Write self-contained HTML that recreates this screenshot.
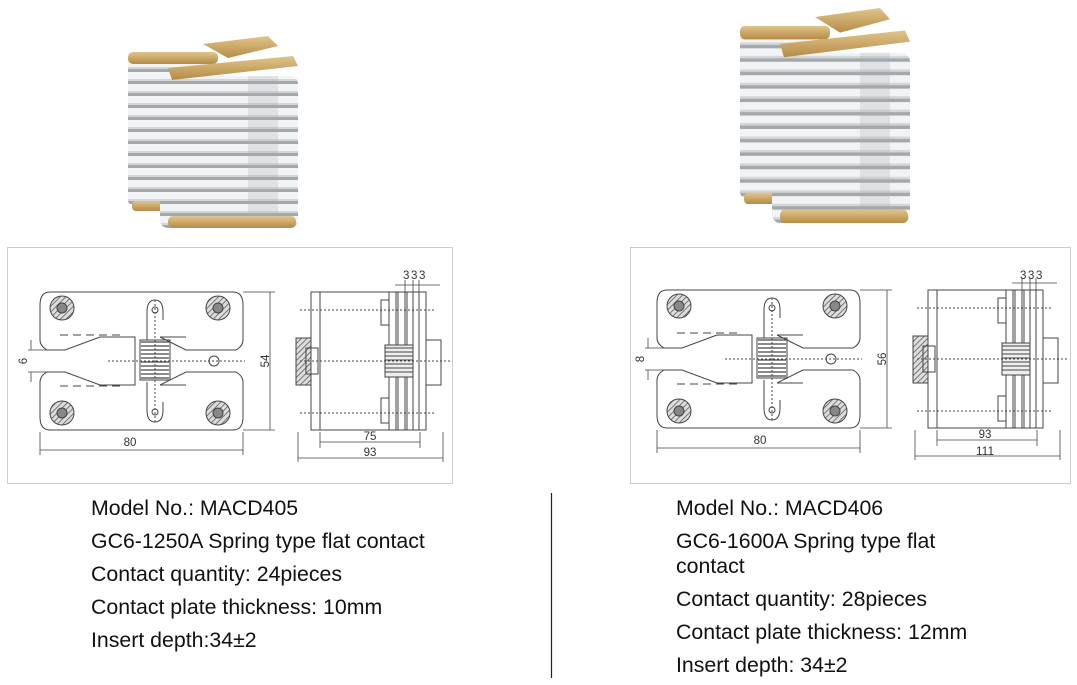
<!DOCTYPE html>
<html><head><meta charset="utf-8"><style>
html,body{margin:0;padding:0;background:#fff;}
body{width:1077px;height:685px;position:relative;overflow:hidden;font-family:"Liberation Sans",Arial,sans-serif;}
.t{position:absolute;font-size:21.3px;color:#111;line-height:24px;white-space:nowrap;}
</style></head><body>
<svg width="1077" height="685" style="position:absolute;left:0;top:0" xmlns="http://www.w3.org/2000/svg">
<defs>
<pattern id="hatch" width="4" height="4" patternUnits="userSpaceOnUse" patternTransform="rotate(45)"><rect width="4" height="4" fill="#ddd"/><line x1="0" y1="0" x2="0" y2="4" stroke="#555" stroke-width="1.5"/></pattern>
<pattern id="stripes" width="10" height="12" patternUnits="userSpaceOnUse"><rect width="10" height="12" fill="#a3a8ab"/><rect y="0" width="10" height="7" fill="#f2f3f4"/><rect y="7" width="10" height="2" fill="#d3d6d8"/></pattern>
<linearGradient id="gold" x1="0" y1="0" x2="0" y2="1"><stop offset="0" stop-color="#e0c58c"/><stop offset="1" stop-color="#b58b45"/></linearGradient>
<g id="photo">
 <rect x="0" y="20" width="80" height="150" rx="6" fill="url(#stripes)"/>
 <rect x="0" y="16" width="90" height="12" rx="5" fill="url(#gold)"/>
 <rect x="4" y="165" width="70" height="10" rx="4" fill="url(#gold)"/>
 <polygon points="75,8 140,0 150,10 100,22" fill="url(#gold)"/>
 <rect x="32" y="40" width="138" height="152" rx="8" fill="url(#stripes)"/>
 <polygon points="40,32 165,20 170,30 44,44" fill="url(#gold)"/>
 <rect x="40" y="180" width="128" height="12" rx="5" fill="url(#gold)"/>
 <rect x="120" y="40" width="30" height="140" fill="#a9adaf" opacity="0.25"/>
</g>
<g id="draw" fill="none" stroke="#444" stroke-width="1">
 <path d="M50,292 H233 Q243,292 243,305 V340 Q243,346 236,350 L186,350 L160,337 M50,292 Q40,292 40,305 V340 Q40,346 47,350 L65,350 L100,337"/>
 <path d="M50,430 H233 Q243,430 243,417 V382 Q243,376 236,372 L186,372 L160,385 M50,430 Q40,430 40,417 V382 Q40,376 47,372 L65,372 L100,385"/>
 <path d="M100,337 H135 V385 H100 M160,337 H186 M160,385 H186" />
 <path d="M60,335 H120" stroke-dasharray="8,5"/>
 <path d="M60,386 H120" stroke-dasharray="8,5"/>
 <g fill="url(#hatch)"><circle cx="62" cy="308" r="12"/><circle cx="218" cy="308" r="12"/><circle cx="62" cy="413" r="12"/><circle cx="218" cy="413" r="12"/></g>
 <g fill="#888"><circle cx="62" cy="308" r="5"/><circle cx="218" cy="308" r="5"/><circle cx="62" cy="413" r="5"/><circle cx="218" cy="413" r="5"/></g>
 <path d="M147,340 V312 Q147,300 155,300 Q163,300 163,312 V320 M147,382 V410 Q147,422 155,422 Q163,422 163,410 V402"/>
 <circle cx="155" cy="310" r="3"/><circle cx="155" cy="412" r="3"/>
 <g stroke-width="1.2"><path d="M141,342 H169 M141,346 H169 M141,350 H169 M141,354 H169 M141,358 H169 M141,362 H169 M141,366 H169 M141,370 H169 M141,374 H169 M141,378 H169"/></g>
 <rect x="140" y="340" width="30" height="40"/>
 <circle cx="214" cy="361" r="5"/>
 <path d="M108,361 H245" stroke-dasharray="2,2"/>
 <path d="M155,300 V422" stroke-dasharray="2,2"/>
 <path d="M243,292 H275 M243,430 H275 M270,292 V430 M40,432 V455 M243,432 V455 M40,450 H243 M31,350 V340 M31,372 V382 M28,350 H60 M28,372 H60" stroke-width="0.8"/>
 <rect x="311" y="292" width="9" height="138"/>
 <path d="M320,292 H420 M320,430 H420"/>
 <rect x="381" y="300" width="8" height="25"/><rect x="381" y="398" width="8" height="25"/>
 <rect x="389" y="292" width="7" height="138"/><rect x="398" y="292" width="7" height="138"/><rect x="407" y="292" width="6" height="138"/>
 <rect x="419" y="292" width="7" height="138"/>
 <rect x="426" y="340" width="15" height="45"/>
 <rect x="296" y="338" width="15" height="47" fill="url(#hatch)"/>
 <rect x="306" y="348" width="12" height="26"/>
 <rect x="385" y="345" width="28" height="32" fill="#eee"/>
 <path d="M385,348 H413 M385,352 H413 M385,356 H413 M385,360 H413 M385,364 H413 M385,368 H413 M385,372 H413"/>
 <path d="M300,310 H434 M300,361 H450 M300,413 H434" stroke-dasharray="2,2"/>
 <path d="M320,432 V448 M420,432 V448 M320,442 H420 M298,432 V462 M443,432 V462 M298,458 H443 M395,285 H440 M405,280 V292 M413,280 V292 M419,280 V292" stroke-width="0.8"/>
</g>
</defs>
<use href="#photo" x="128" y="36"/>
<use href="#photo" x="740" y="8" transform="translate(740,8) scale(1,1.12) translate(-740,-8)"/>
<rect x="7.5" y="247.5" width="445" height="236" fill="none" stroke="#ccc"/>
<rect x="630.5" y="247.5" width="440" height="236" fill="none" stroke="#ccc"/>
<use href="#draw"/>
<use href="#draw" x="617" y="-2"/>
<g font-family="Liberation Sans,Arial,sans-serif" font-size="11.5" fill="#333">
 <text x="130" y="446" text-anchor="middle">80</text>
 <text x="269" y="361" transform="rotate(-90 269 361)" text-anchor="middle">54</text>
 <text x="27" y="361" transform="rotate(-90 27 361)" text-anchor="middle">6</text>
 <text x="370" y="440" text-anchor="middle">75</text>
 <text x="370" y="456" text-anchor="middle">93</text>
 <text x="403" y="279">3</text><text x="411" y="279">3</text><text x="419" y="279">3</text>
 <text x="760" y="444" text-anchor="middle">80</text>
 <text x="886" y="359" transform="rotate(-90 886 359)" text-anchor="middle">56</text>
 <text x="644" y="359" transform="rotate(-90 644 359)" text-anchor="middle">8</text>
 <text x="985" y="438" text-anchor="middle">93</text>
 <text x="985" y="455" text-anchor="middle" font-size="12">111</text>
 <text x="1020" y="279">3</text><text x="1028" y="279">3</text><text x="1036" y="279">3</text>
</g>
<line x1="551.5" y1="493" x2="551.5" y2="678" stroke="#222" stroke-width="1.2"/>
</svg>
<div class="t" style="left:91px;top:496px">Model No.: MACD405</div>
<div class="t" style="left:91px;top:529px">GC6-1250A Spring type flat contact</div>
<div class="t" style="left:91px;top:562px">Contact quantity: 24pieces</div>
<div class="t" style="left:91px;top:595px">Contact plate thickness: 10mm</div>
<div class="t" style="left:91px;top:628px">Insert depth:34±2</div>
<div class="t" style="left:676px;top:496px">Model No.: MACD406</div>
<div class="t" style="left:676px;top:529px">GC6-1600A Spring type flat</div>
<div class="t" style="left:676px;top:554px">contact</div>
<div class="t" style="left:676px;top:587px">Contact quantity: 28pieces</div>
<div class="t" style="left:676px;top:620px">Contact plate thickness: 12mm</div>
<div class="t" style="left:676px;top:653px">Insert depth: 34±2</div>
</body></html>
